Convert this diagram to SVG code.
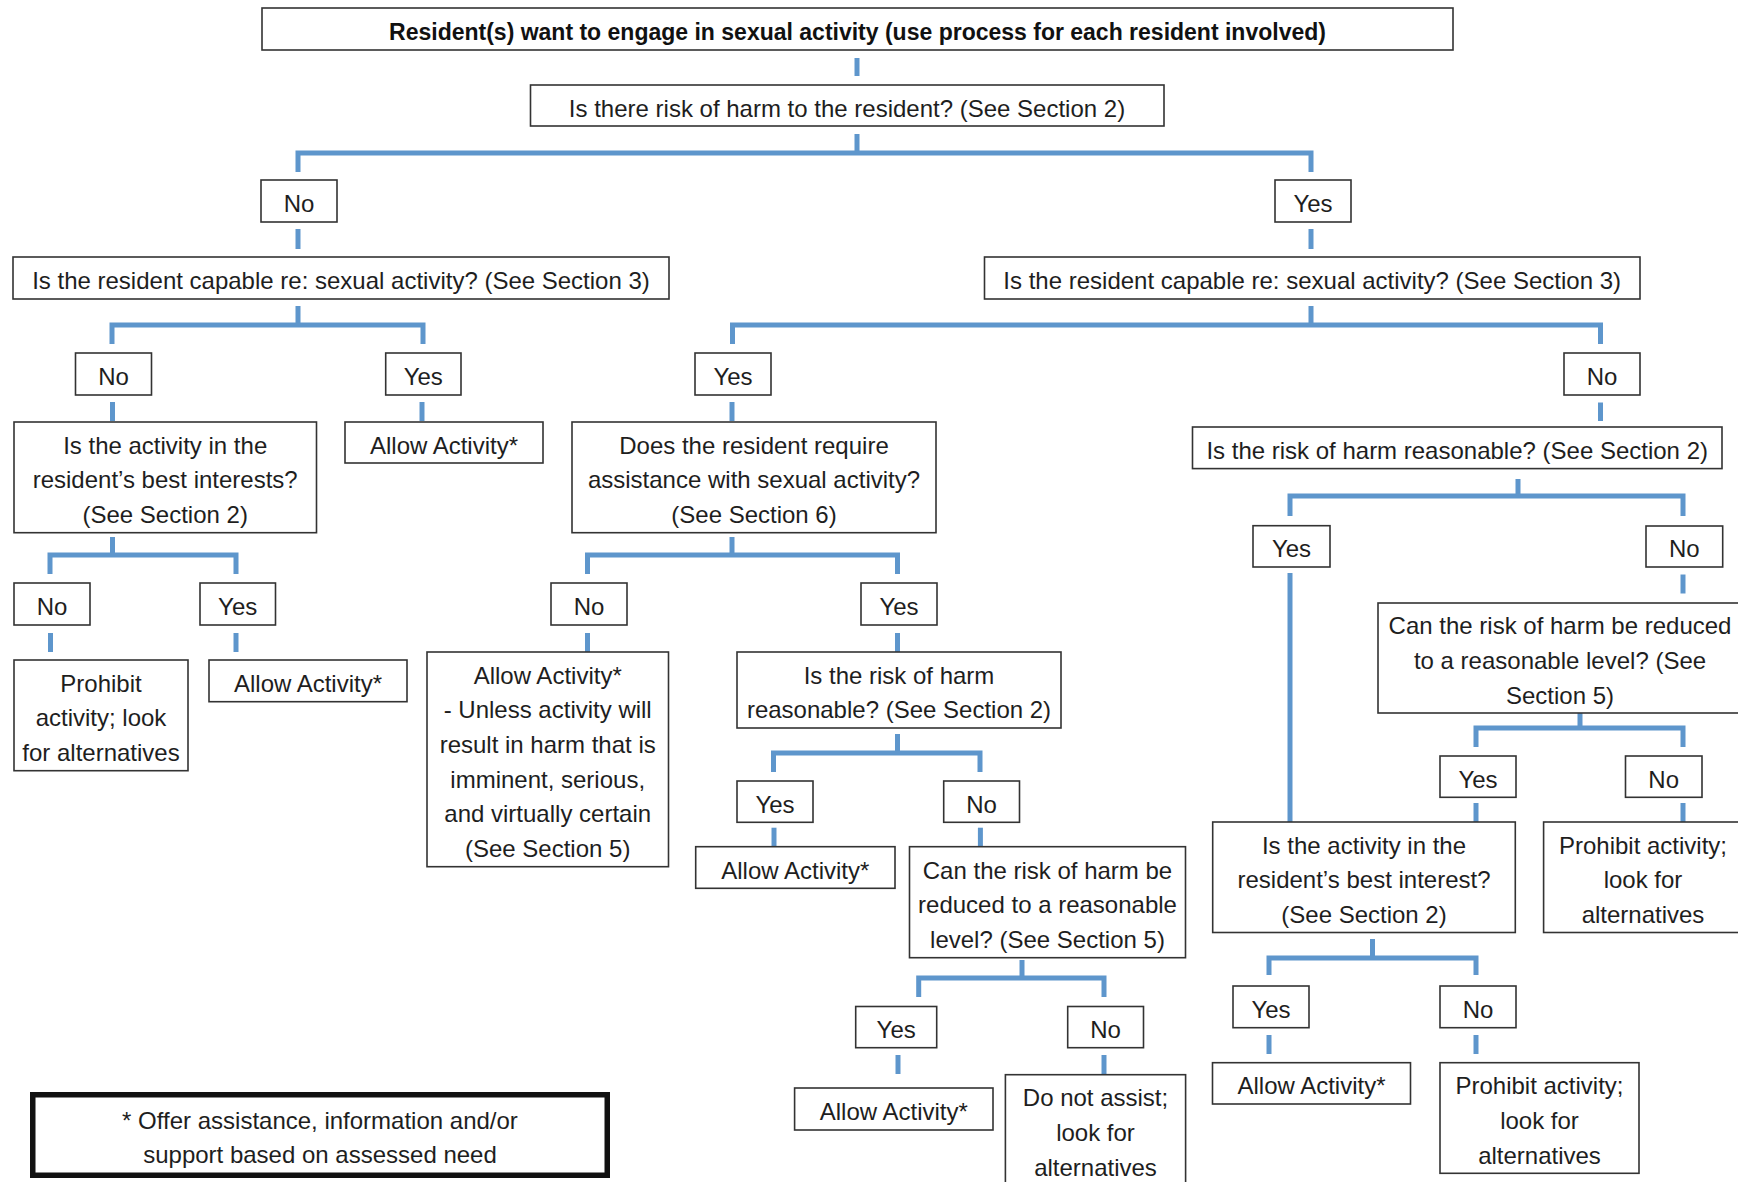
<svg xmlns="http://www.w3.org/2000/svg" width="1738" height="1182" viewBox="0 0 1738 1182">
<style>
.bg{fill:#ffffff}
.box{fill:#ffffff;stroke:#333333;stroke-width:1.6}
.t{font-family:"Liberation Sans",Arial,sans-serif;font-size:24px;fill:#1e1e1e;text-anchor:middle;transform:translateY(1px)}
.tb{font-family:"Liberation Sans",Arial,sans-serif;font-size:23px;font-weight:bold;fill:#111111;text-anchor:middle;transform:translateY(1px)}
.c{fill:none;stroke:#5e96cc;stroke-width:5;stroke-linejoin:miter;stroke-linecap:butt}
.note{fill:#ffffff;stroke:#111111;stroke-width:5.5}
</style>
<rect class="bg" x="0" y="0" width="1738" height="1182"/>

<g id="connectors">
<path class="c" d="M857 58V76"/>
<path class="c" d="M857 134V153M298 172V153H1311V172"/>
<path class="c" d="M298 229V249"/>
<path class="c" d="M1311 229V249"/>
<path class="c" d="M298 306V325M112 344V325H423V344"/>
<path class="c" d="M1311 306V325M732.5 344V325H1600.5V344"/>
<path class="c" d="M112.5 402V421"/>
<path class="c" d="M422 402V421"/>
<path class="c" d="M732 402V421"/>
<path class="c" d="M1600.5 402.5V421"/>
<path class="c" d="M112.5 537V555M50 574V555H236V574"/>
<path class="c" d="M732 537V555M587.5 574V555H897.5V574"/>
<path class="c" d="M1518 479V496M1290 516V496H1683V516"/>
<path class="c" d="M50.5 633V652"/>
<path class="c" d="M236 633V652"/>
<path class="c" d="M587.5 633V652"/>
<path class="c" d="M897.5 633V652"/>
<path class="c" d="M1290 573V822"/>
<path class="c" d="M1683 574.5V593.5"/>
<path class="c" d="M897.5 734V753M773.5 772V753H980V772"/>
<path class="c" d="M774 827.7V846.7"/>
<path class="c" d="M980.4 827.7V846.7"/>
<path class="c" d="M1580 709V728M1476 747V728H1683V747"/>
<path class="c" d="M1476 803V822"/>
<path class="c" d="M1683 803V822"/>
<path class="c" d="M1022 960V978M918.7 997V978H1104V997"/>
<path class="c" d="M898 1055V1074"/>
<path class="c" d="M1104 1055V1074"/>
<path class="c" d="M1372.5 939V958M1269 975V958H1476V975"/>
<path class="c" d="M1269 1035V1054"/>
<path class="c" d="M1476 1035V1054"/>
</g>

<g id="n0"><rect class="box" x="262" y="8" width="1191" height="42"/><text class="tb" x="857.5" y="39">Resident(s) want to engage in sexual activity (use process for each resident involved)</text></g>
<g id="n1"><rect class="box" x="530.5" y="85" width="633.5" height="41"/><text class="t" x="847" y="115.5">Is there risk of harm to the resident? (See Section 2)</text></g>
<g id="n2"><rect class="box" x="261" y="180" width="76" height="42"/><text class="t" x="299" y="211">No</text></g>
<g id="n3"><rect class="box" x="1275" y="180" width="76" height="42"/><text class="t" x="1313" y="211">Yes</text></g>
<g id="n4"><rect class="box" x="13" y="257" width="656" height="42"/><text class="t" x="341" y="288">Is the resident capable re: sexual activity? (See Section 3)</text></g>
<g id="n5"><rect class="box" x="984.5" y="257" width="655.5" height="42"/><text class="t" x="1312.2" y="288">Is the resident capable re: sexual activity? (See Section 3)</text></g>
<g id="n6"><rect class="box" x="75.5" y="353" width="76" height="42"/><text class="t" x="113.5" y="384">No</text></g>
<g id="n7"><rect class="box" x="385.7" y="353" width="75.3" height="42"/><text class="t" x="423.3" y="384">Yes</text></g>
<g id="n8"><rect class="box" x="695" y="353" width="76" height="42"/><text class="t" x="733" y="384">Yes</text></g>
<g id="n9"><rect class="box" x="1564" y="353" width="76" height="42"/><text class="t" x="1602" y="384">No</text></g>
<g id="n10"><rect class="box" x="14" y="422" width="302.5" height="110.7"/><text class="t" x="165.2" y="452.7">Is the activity in the</text><text class="t" x="165.2" y="487.4">resident’s best interests?</text><text class="t" x="165.2" y="522.1">(See Section 2)</text></g>
<g id="n11"><rect class="box" x="345" y="422" width="198" height="41"/><text class="t" x="444" y="452.5">Allow Activity*</text></g>
<g id="n12"><rect class="box" x="572" y="422" width="364" height="110.7"/><text class="t" x="754" y="452.7">Does the resident require</text><text class="t" x="754" y="487.4">assistance with sexual activity?</text><text class="t" x="754" y="522.1">(See Section 6)</text></g>
<g id="n13"><rect class="box" x="1192.5" y="427" width="529.5" height="41.6"/><text class="t" x="1457.2" y="457.8">Is the risk of harm reasonable? (See Section 2)</text></g>
<g id="n14"><rect class="box" x="14" y="583" width="76" height="42"/><text class="t" x="52" y="614">No</text></g>
<g id="n15"><rect class="box" x="200" y="583" width="75.5" height="42"/><text class="t" x="237.7" y="614">Yes</text></g>
<g id="n16"><rect class="box" x="551" y="583" width="76" height="42"/><text class="t" x="589" y="614">No</text></g>
<g id="n17"><rect class="box" x="861" y="583" width="76" height="42"/><text class="t" x="899" y="614">Yes</text></g>
<g id="n18"><rect class="box" x="1253" y="525.7" width="77" height="41.3"/><text class="t" x="1291.5" y="556.4">Yes</text></g>
<g id="n19"><rect class="box" x="1646" y="526" width="76.7" height="41"/><text class="t" x="1684.3" y="556.4">No</text></g>
<g id="n20"><rect class="box" x="14" y="660" width="174" height="110.7"/><text class="t" x="101" y="690.7">Prohibit</text><text class="t" x="101" y="725.4">activity; look</text><text class="t" x="101" y="760.1">for alternatives</text></g>
<g id="n21"><rect class="box" x="209" y="660" width="198" height="41.7"/><text class="t" x="308" y="690.9">Allow Activity*</text></g>
<g id="n22"><rect class="box" x="427" y="652" width="241.5" height="214.7"/><text class="t" x="547.7" y="682.6">Allow Activity*</text><text class="t" x="547.7" y="717.3">- Unless activity will</text><text class="t" x="547.7" y="752">result in harm that is</text><text class="t" x="547.7" y="786.7">imminent, serious,</text><text class="t" x="547.7" y="821.4">and virtually certain</text><text class="t" x="547.7" y="856.1">(See Section 5)</text></g>
<g id="n23"><rect class="box" x="737" y="652" width="324" height="76"/><text class="t" x="899" y="682.7">Is the risk of harm</text><text class="t" x="899" y="717.4">reasonable? (See Section 2)</text></g>
<g id="n24"><rect class="box" x="1378" y="603" width="364" height="110"/><text class="t" x="1560" y="633.3">Can the risk of harm be reduced</text><text class="t" x="1560" y="668">to a reasonable level? (See</text><text class="t" x="1560" y="702.7">Section 5)</text></g>
<g id="n25"><rect class="box" x="737" y="781" width="76" height="41.3"/><text class="t" x="775" y="811.7">Yes</text></g>
<g id="n26"><rect class="box" x="943.7" y="781" width="75.8" height="41.3"/><text class="t" x="981.6" y="811.7">No</text></g>
<g id="n27"><rect class="box" x="1440" y="756" width="76" height="41.3"/><text class="t" x="1478" y="786.7">Yes</text></g>
<g id="n28"><rect class="box" x="1625.5" y="756" width="76.5" height="41.3"/><text class="t" x="1663.7" y="786.7">No</text></g>
<g id="n29"><rect class="box" x="695.7" y="846.7" width="199.3" height="41.6"/><text class="t" x="795.3" y="877.5">Allow Activity*</text></g>
<g id="n30"><rect class="box" x="909.5" y="846.7" width="276" height="111"/><text class="t" x="1047.5" y="877.5">Can the risk of harm be</text><text class="t" x="1047.5" y="912.2">reduced to a reasonable</text><text class="t" x="1047.5" y="946.9">level? (See Section 5)</text></g>
<g id="n31"><rect class="box" x="1212.7" y="822" width="302.6" height="110.5"/><text class="t" x="1364" y="852.6">Is the activity in the</text><text class="t" x="1364" y="887.3">resident’s best interest?</text><text class="t" x="1364" y="922">(See Section 2)</text></g>
<g id="n32"><rect class="box" x="1543.6" y="822" width="199" height="110.5"/><text class="t" x="1643" y="852.6">Prohibit activity;</text><text class="t" x="1643" y="887.3">look for</text><text class="t" x="1643" y="922">alternatives</text></g>
<g id="n33"><rect class="box" x="855.7" y="1006.5" width="81" height="41.2"/><text class="t" x="896.2" y="1037.1">Yes</text></g>
<g id="n34"><rect class="box" x="1067.7" y="1006.5" width="75.8" height="41.2"/><text class="t" x="1105.6" y="1037.1">No</text></g>
<g id="n35"><rect class="box" x="1233" y="986" width="76" height="41.7"/><text class="t" x="1271" y="1016.9">Yes</text></g>
<g id="n36"><rect class="box" x="1440" y="986" width="76" height="41.7"/><text class="t" x="1478" y="1016.9">No</text></g>
<g id="n37"><rect class="box" x="794.6" y="1088" width="198.4" height="42"/><text class="t" x="893.8" y="1119">Allow Activity*</text></g>
<g id="n38"><rect class="box" x="1005.4" y="1074.7" width="180.2" height="111"/><text class="t" x="1095.5" y="1105.3">Do not assist;</text><text class="t" x="1095.5" y="1140">look for</text><text class="t" x="1095.5" y="1174.7">alternatives</text></g>
<g id="n39"><rect class="box" x="1212.5" y="1062.7" width="198" height="41.3"/><text class="t" x="1311.5" y="1093.4">Allow Activity*</text></g>
<g id="n40"><rect class="box" x="1440" y="1062.7" width="199" height="110.6"/><text class="t" x="1539.5" y="1093.3">Prohibit activity;</text><text class="t" x="1539.5" y="1128">look for</text><text class="t" x="1539.5" y="1162.7">alternatives</text></g>
<g id="n41"><rect class="note" x="32.75" y="1094.75" width="574.5" height="80.5"/><text class="t" x="320" y="1127.6">* Offer assistance, information and/or</text><text class="t" x="320" y="1162.3">support based on assessed need</text></g>
</svg>
